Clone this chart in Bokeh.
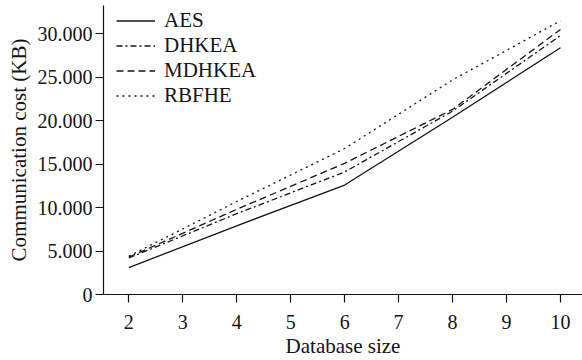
from bokeh.plotting import figure
from bokeh.models import Range1d, FixedTicker, Legend, LegendItem
from bokeh.embed import file_html
from bokeh.resources import INLINE

# Data
db_size = [2, 4, 6, 8, 10]
aes = [3100, 7900, 12600, 20400, 28400]
dhkea = [4200, 9300, 14100, 21100, 29800]
mdhkea = [4300, 9800, 15100, 21300, 30500]
rbfhe = [4400, 10700, 16800, 24700, 31500]
series_names = ["AES", "DHKEA", "MDHKEA", "RBFHE"]
x_ticks = [2, 3, 4, 5, 6, 7, 8, 9, 10]
y_ticks = [0, 5000, 10000, 15000, 20000, 25000, 30000]
y_tick_labels = ["0", "5.000", "10.000", "15.000", "20.000", "25.000", "30.000"]
x_title = "Database size"
y_title = "Communication cost (KB)"

FONT = "Liberation Serif"
INK = "#141414"

p = figure(width=582, height=360, output_backend="svg", toolbar_location=None,
           x_range=Range1d(1.531, 10.408), y_range=Range1d(0, 33260),
           min_border_left=103, min_border_right=0, min_border_top=5, min_border_bottom=66)

p.outline_line_color = None
p.grid.visible = False
p.background_fill_color = "white"
p.border_fill_color = "white"

dashes = ["solid", "6 3 2 3", "7 4", "2 4"]
ys = [aes, dhkea, mdhkea, rbfhe]
renderers = []
for name, y, d in zip(series_names, ys, dashes):
    r = p.line(db_size, y, line_color=INK, line_width=1.3, line_dash=d)
    renderers.append((name, r))

for ax in (p.xaxis[0], p.yaxis[0]):
    ax.axis_line_color = INK
    ax.axis_line_width = 1.2
    ax.major_tick_line_color = INK
    ax.major_tick_line_width = 1.2
    ax.minor_tick_line_color = None
    ax.major_tick_in = 0
    ax.major_tick_out = 8
    ax.major_label_text_font = FONT
    ax.major_label_text_font_size = "20px"
    ax.major_label_text_color = INK
    ax.axis_label_text_font = FONT
    ax.axis_label_text_font_size = "21px"
    ax.axis_label_text_font_style = "normal"
    ax.axis_label_text_color = INK

p.xaxis.ticker = FixedTicker(ticks=x_ticks)
p.xaxis.axis_label = x_title
p.xaxis.major_label_standoff = 12
p.xaxis.axis_label_standoff = 2

p.yaxis.ticker = FixedTicker(ticks=y_ticks)
p.yaxis.major_label_overrides = {t: l for t, l in zip(y_ticks, y_tick_labels)}
p.yaxis.axis_label = y_title
p.yaxis.major_label_standoff = 3
p.yaxis.axis_label_standoff = 4

legend = Legend(items=[LegendItem(label=n, renderers=[r]) for n, r in renderers],
                location=(13, 186), margin=0, padding=0, spacing=0,
                glyph_width=39, glyph_height=25, label_height=25, label_standoff=9,
                label_text_font=FONT, label_text_font_size="21px", label_text_color=INK,
                background_fill_alpha=0, border_line_color=None)
p.add_layout(legend)

open("out.html", "w").write(file_html(p, INLINE))
